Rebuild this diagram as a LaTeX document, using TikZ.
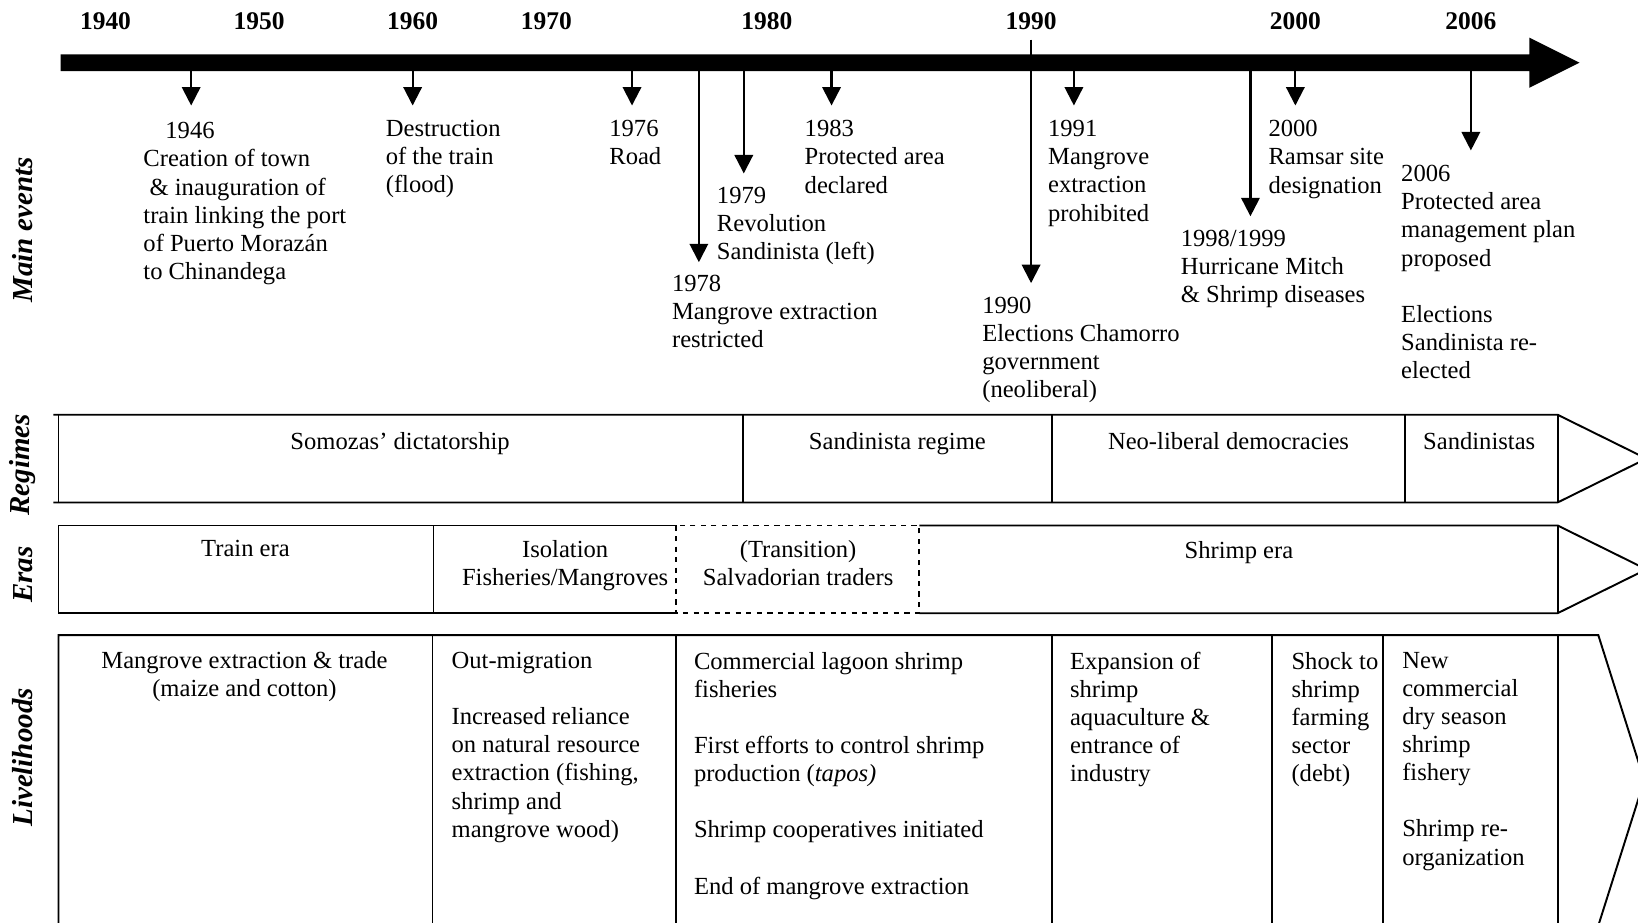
\documentclass[tikz,border=0pt]{standalone}
\usepackage{fontspec}
\setmainfont{Liberation Serif}
\usetikzlibrary{arrows.meta}

\begin{document}
\begin{tikzpicture}[x=0.0209cm,y=-0.0209cm,
  txt/.style={font=\fontsize{14}{16}\selectfont,inner sep=0pt},
  evt/.style={txt,align=left,anchor=north west},
  mid/.style={txt,align=center,anchor=north},
  yearlab/.style={font=\fontsize{14.5}{16}\selectfont\bfseries,inner sep=0pt},
  sidelab/.style={font=\fontsize{16.5}{18}\selectfont\bfseries\itshape,rotate=90,inner sep=0pt},
  evarrow/.style={line width=1.2pt,-{Triangle[width=10.5pt,length=10.5pt]}},
  band/.style={line width=1.1pt}]

\useasboundingbox (0,0) rectangle (1568,883);
\clip (0,0) rectangle (1568,883);

% time axis
\node[yearlab] (y1940) at (101,20) {1940};
\node[yearlab] (y1950) at (248,20) {1950};
\node[yearlab] (y1960) at (395,20) {1960};
\node[yearlab] (y1970) at (523,20) {1970};
\node[yearlab] (y1980) at (734,20) {1980};
\node[yearlab] (y1990) at (987,20) {1990};
\node[yearlab] (y2000) at (1240,20) {2000};
\node[yearlab] (y2006) at (1408,20) {2006};

\fill (58,52) -- (1464,52) -- (1464,36) -- (1512,60) -- (1464,84) -- (1464,68) -- (58,68) -- cycle;

% events
\coordinate (s46) at (183,60);   \coordinate (t46) at (183,101);
\coordinate (s59) at (395,60);   \coordinate (t59) at (395,101);
\coordinate (s76) at (605,60);   \coordinate (t76) at (605,101);
\coordinate (s78) at (669,60);   \coordinate (t78) at (669,251);
\coordinate (s79) at (712,60);   \coordinate (t79) at (712,166);
\coordinate (s83) at (796,60);   \coordinate (t83) at (796,101);
\coordinate (s90) at (987,38);   \coordinate (t90) at (987,271);
\coordinate (s91) at (1028,60);  \coordinate (t91) at (1028,101);
\coordinate (s98) at (1197,60);  \coordinate (t98) at (1197,207);
\coordinate (s00) at (1240,60);  \coordinate (t00) at (1240,101);
\coordinate (s06) at (1408,60);  \coordinate (t06) at (1408,144);

\draw[evarrow] (s46) -- (t46);
\draw[evarrow] (s59) -- (t59);
\draw[evarrow] (s76) -- (t76);
\draw[evarrow] (s78) -- (t78);
\draw[evarrow] (s79) -- (t79);
\draw[evarrow] (s83) -- (t83);
\draw[evarrow] (s90) -- (t90);
\draw[evarrow] (s91) -- (t91);
\draw[evarrow] (s98) -- (t98);
\draw[evarrow] (s00) -- (t00);
\draw[evarrow] (s06) -- (t06);

\node[evt] (ev46) at (137,117) {\hspace*{12.5pt}1946\\Creation of town\\\hspace*{3.5pt}\& inauguration of\\train linking the port\\of Puerto Morazán\\to Chinandega};
\node[evt] (ev59) at (369,115) {Destruction\\of the train\\(flood)};
\node[evt] (ev76) at (583,115) {1976\\Road};
\node[evt] (ev78) at (643,263) {1978\\Mangrove extraction\\restricted};
\node[evt] (ev79) at (686,179) {1979\\Revolution\\Sandinista (left)};
\node[evt] (ev83) at (770,115) {1983\\Protected area\\declared};
\node[evt] (ev90) at (940,284) {1990\\Elections Chamorro\\government\\(neoliberal)};
\node[evt] (ev91) at (1003,115) {1991\\Mangrove\\extraction\\prohibited};
\node[evt] (ev98) at (1130,220) {1998/1999\\Hurricane Mitch\\\& Shrimp diseases};
\node[evt] (ev00) at (1214,115) {2000\\Ramsar site\\designation};
\node[evt] (ev06) at (1341,158) {2006\\Protected area\\management plan\\proposed\\[16pt]Elections\\Sandinista re-\\elected};

% side labels
\node[sidelab] (lmain) at (22,220) {Main events};
\node[sidelab] (lreg) at (22,445) {Regimes};
\node[sidelab] (lera) at (22,550) {Eras};
\node[sidelab] (lliv) at (22,725) {Livelihoods};

% regimes
\draw[band] (51,397) -- (1491,397) -- (1576,439) -- (1491,481) -- (51,481);
\draw[band] (56,397) -- (56,481);
\draw[band] (711,397) -- (711,481);
\draw[band] (1007,397) -- (1007,481);
\draw[band] (1345,397) -- (1345,481);
\draw[band] (1491,397) -- (1491,481);

\node[mid] (rsom) at (383,414) {Somozas’ dictatorship};
\node[mid] (rsand) at (859,414) {Sandinista regime};
\node[mid] (rneo) at (1176,414) {Neo-liberal democracies};
\node[mid] (rsandb) at (1416,414) {Sandinistas};

% eras
\draw[band] (647,503) -- (56,503) -- (56,587) -- (647,587);
\draw[band] (880,503) -- (1491,503) -- (1576,545) -- (1491,587) -- (880,587);
\draw[band] (415,503) -- (415,587);
\draw[band] (1491,503) -- (1491,587);
\draw[band,dashed] (647,503) rectangle (880,587);

\node[mid] (etrain) at (235,517) {Train era};
\node[mid] (eiso) at (541,517) {Isolation\\Fisheries/Mangroves};
\node[mid] (etrans) at (764,517) {(Transition)\\Salvadorian traders};
\node[mid] (eshrimp) at (1186,518) {Shrimp era};

% livelihoods
\draw[band] (56,886) -- (56,608) -- (1530,608) -- (1574,747) -- (1530,886);
\draw[band] (414,608) -- (414,886);
\draw[band] (647,608) -- (647,886);
\draw[band] (1007,608) -- (1007,886);
\draw[band] (1218,608) -- (1218,886);
\draw[band] (1324,608) -- (1324,886);
\draw[band] (1491,608) -- (1491,886);

\node[mid] (lva) at (234,623) {Mangrove extraction \& trade\\(maize and cotton)};
\node[evt] (lvb) at (432,624) {Out-migration\\[16pt]Increased reliance\\on natural resource\\extraction (fishing,\\shrimp and\\mangrove wood)};
\node[evt] (lvc) at (664,624) {Commercial lagoon shrimp\\fisheries\\[16pt]First efforts to control shrimp\\production (\textit{tapos)}\\[16pt]Shrimp cooperatives initiated\\[16pt]End of mangrove extraction};
\node[evt] (lvd) at (1024,624) {Expansion of\\shrimp\\aquaculture \&\\entrance of\\industry};
\node[evt] (lve) at (1236,624) {Shock to\\shrimp\\farming\\sector\\(debt)};
\node[evt] (lvf) at (1342,624) {New\\commercial\\dry season\\shrimp\\fishery\\[16pt]Shrimp re-\\organization};

\end{tikzpicture}
\end{document}
